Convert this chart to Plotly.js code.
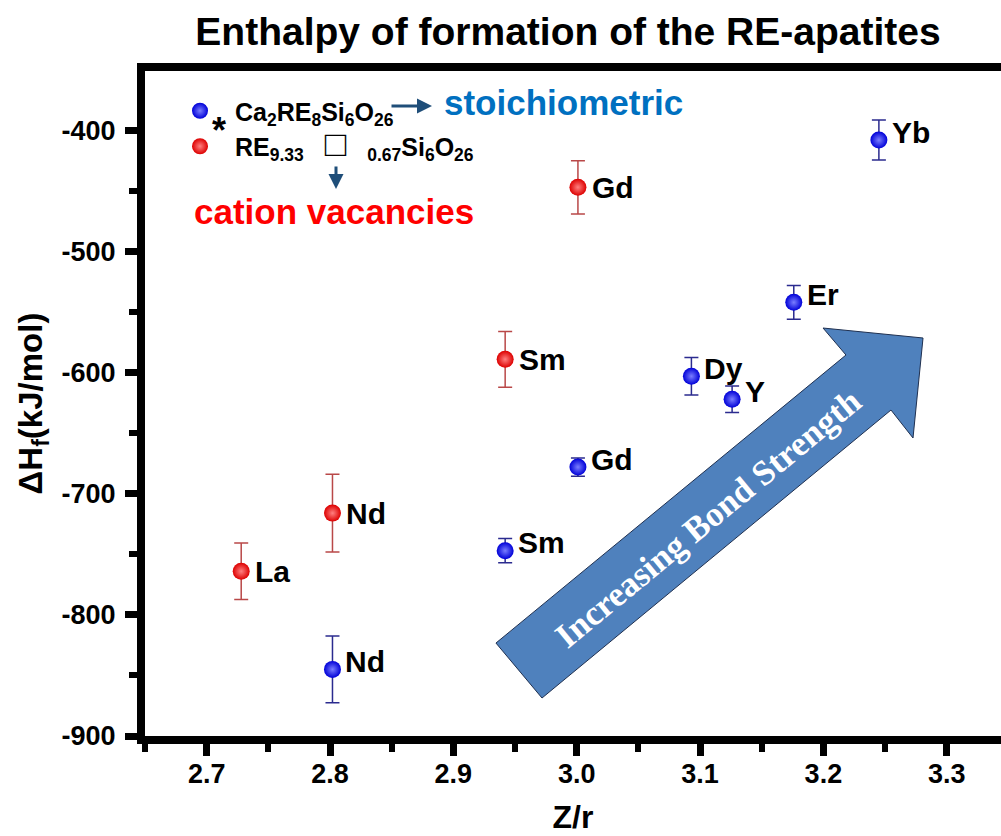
<!DOCTYPE html>
<html>
<head>
<meta charset="utf-8">
<script src="https://cdn.plot.ly/plotly-3.0.1.min.js"></script>
<style>
  html, body { margin: 0; padding: 0; background: #ffffff; overflow: hidden; }
  #chart { width: 1001px; height: 836px; }
</style>
</head>
<body>
<div id="chart"></div>
<script>
// ---------- data ----------
// stoichiometric Ca2RE8Si6O26 (blue)
const stoichLabels = ['Nd', 'Sm', 'Gd', 'Dy', 'Y', 'Er', 'Yb'];
const stoichZr     = [2.802, 2.942, 3.001, 3.093, 3.126, 3.176, 3.245];
const stoichDH     = [-845, -747, -678, -603, -622, -542, -408];
const stoichErr    = [27.5, 10, 7.5, 15.5, 11, 14, 16.5];

// cation vacancies RE9.33[]0.67Si6O26 (red)
const vacLabels = ['La', 'Nd', 'Sm', 'Gd'];
const vacZr     = [2.728, 2.802, 2.942, 3.001];
const vacDH     = [-764, -716, -589, -447];
const vacErr    = [23.4, 32, 23, 22];

const xTickVals  = [2.7, 2.8, 2.9, 3.0, 3.1, 3.2, 3.3];
const xTickText  = ['2.7', '2.8', '2.9', '3.0', '3.1', '3.2', '3.3'];
const yTickVals  = [-900, -800, -700, -600, -500, -400];
const yTickText  = ['-900', '-800', '-700', '-600', '-500', '-400'];

// ---------- helpers (layout geometry only) ----------
const W = 1001, H = 836;
const M = { l: 145, r: 0, t: 71, b: 100 };
const PW = W - M.l - M.r, PH = H - M.t - M.b;
const px = x => (x - M.l) / PW;          // pixel -> paper x
const py = y => (H - M.b - y) / PH;      // pixel -> paper y

const SANS = 'Liberation Sans, Arial, Helvetica, sans-serif';
const SERIF = 'Liberation Serif, Times New Roman, serif';
const NB = '\u00A0';

const traces = [
  {
    type: 'scatter', mode: 'markers',
    name: 'Ca<sub>2</sub>RE<sub>8</sub>Si<sub>6</sub>O<sub>26</sub>',
    x: stoichZr, y: stoichDH, text: stoichLabels,
    marker: { size: 17, color: '#0000d8', gradient: { type: 'radial', color: '#7a7eff' } },
    error_y: { type: 'data', array: stoichErr, visible: true, color: '#2b2b8f', thickness: 1.5, width: 7 },
    hoverinfo: 'x+y+text'
  },
  {
    type: 'scatter', mode: 'markers',
    name: 'RE<sub>9.33</sub>' + NB + NB + NB + '<span style="font-size:36px;font-weight:normal">\u25A1</span>' + NB + NB + NB + '<sub>0.67</sub>Si<sub>6</sub>O<sub>26</sub>',
    x: vacZr, y: vacDH, text: vacLabels,
    marker: { size: 17, color: '#dd0000', gradient: { type: 'radial', color: '#ff8080' } },
    error_y: { type: 'data', array: vacErr, visible: true, color: '#b94848', thickness: 1.5, width: 7 },
    hoverinfo: 'x+y+text'
  }
];

const labelFont = { family: SANS, size: 30, color: '#000000', weight: 'bold' };
const annotations = [];
stoichLabels.forEach((t, i) => annotations.push({
  x: stoichZr[i], y: stoichDH[i], xref: 'x', yref: 'y', text: t, showarrow: false,
  xanchor: 'left', yanchor: 'middle', xshift: 11, yshift: 8, font: labelFont
}));
vacLabels.forEach((t, i) => annotations.push({
  x: vacZr[i], y: vacDH[i], xref: 'x', yref: 'y', text: t, showarrow: false,
  xanchor: 'left', yanchor: 'middle', xshift: 12, yshift: 0, font: labelFont
}));

// legend decorations
annotations.push(
  { xref: 'paper', yref: 'paper', x: px(219), y: py(130), text: '*', showarrow: false,
    font: { family: SANS, size: 36, color: '#000', weight: 'bold' }, xanchor: 'center', yanchor: 'middle' },
  { xref: 'paper', yref: 'paper', x: px(432), y: py(106), ax: -42, ay: 0, text: '', showarrow: true,
    arrowhead: 2, arrowsize: 1, arrowwidth: 3, arrowcolor: '#1f4e79' },
  { xref: 'paper', yref: 'paper', x: px(336), y: py(189), ax: 0, ay: -24, text: '', showarrow: true,
    arrowhead: 2, arrowsize: 1, arrowwidth: 3, arrowcolor: '#1f4e79' },
  { xref: 'paper', yref: 'paper', x: px(442), y: py(103), text: 'stoichiometric', showarrow: false,
    xanchor: 'left', yanchor: 'middle', font: { family: SANS, size: 35, color: '#0070c0', weight: 'bold' } },
  { xref: 'paper', yref: 'paper', x: px(192), y: py(211), text: 'cation vacancies', showarrow: false,
    xanchor: 'left', yanchor: 'middle', font: { family: SANS, size: 35, color: '#ff0000', weight: 'bold' } },
  { xref: 'paper', yref: 'paper', x: px(708), y: py(518), text: 'Increasing Bond Strength', showarrow: false,
    textangle: -39.5, xanchor: 'center', yanchor: 'middle',
    font: { family: SERIF, size: 35, color: '#ffffff', weight: 'bold' } }
);

// big arrow polygon (pixel positions converted to paper)
const arrowPts = [[496, 643], [846, 355], [823, 328], [923, 338], [913, 438], [891, 410], [542, 698]];
const arrowPath = 'M ' + arrowPts.map(p => px(p[0]).toFixed(4) + ',' + py(p[1]).toFixed(4)).join(' L ') + ' Z';

const layout = {
  width: W, height: H,
  margin: M,
  paper_bgcolor: '#ffffff', plot_bgcolor: '#ffffff',
  showlegend: true,
  legend: {
    x: px(165), y: py(88), xanchor: 'left', yanchor: 'top',
    bgcolor: 'rgba(0,0,0,0)', borderwidth: 0,
    font: { family: SANS, size: 25, color: '#000', weight: 'bold' },
    itemwidth: 60, traceorder: 'normal'
  },
  title: {
    text: 'Enthalpy of formation of the RE-apatites',
    font: { family: SANS, size: 39, color: '#000', weight: 'bold' },
    x: 568 / W, xref: 'container', xanchor: 'center',
    y: 1 - 31 / H, yref: 'container', yanchor: 'middle'
  },
  xaxis: {
    range: [2.65, 3.344], tickvals: xTickVals, ticktext: xTickText,
    ticks: 'outside', ticklen: 12, tickwidth: 7, tickcolor: '#000',
    showline: true, linewidth: 8, linecolor: '#000', mirror: true,
    showgrid: false, zeroline: false,
    tickfont: { family: SANS, size: 27, color: '#000', weight: 'bold' },
    ticklabelstandoff: -5,
    minor: { ticks: 'outside', ticklen: 8, tickwidth: 6, tickcolor: '#000', dtick: 0.05, tick0: 2.65, showgrid: false },
    title: { text: 'Z/r', font: { family: SANS, size: 32, color: '#000', weight: 'bold' }, standoff: 20 }
  },
  yaxis: {
    range: [-900, -351], tickvals: yTickVals, ticktext: yTickText,
    ticks: 'outside', ticklen: 12, tickwidth: 7, tickcolor: '#000',
    showline: true, linewidth: 8, linecolor: '#000', mirror: false,
    showgrid: false, zeroline: false,
    tickfont: { family: SANS, size: 27, color: '#000', weight: 'bold' },
    ticklabelstandoff: 4,
    minor: { ticks: 'outside', ticklen: 8, tickwidth: 6, tickcolor: '#000', dtick: 50, tick0: -900, showgrid: false },
    title: { text: '\u0394H<sub>f</sub>(kJ/mol)', font: { family: SANS, size: 33, color: '#000', weight: 'bold' }, standoff: 12 }
  },
  shapes: [
    { type: 'path', xref: 'paper', yref: 'paper', path: arrowPath,
      fillcolor: '#4f81bd', line: { color: '#1f3050', width: 1 }, layer: 'below' }
  ],
  annotations: annotations
};

Plotly.newPlot('chart', traces, layout, { displayModeBar: false, staticPlot: true });
</script>
</body>
</html>
